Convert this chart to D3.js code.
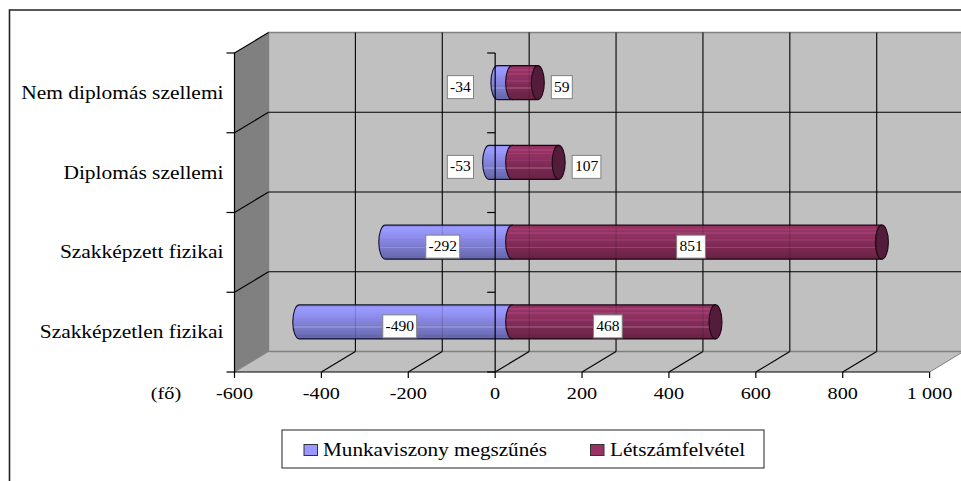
<!DOCTYPE html>
<html><head><meta charset="utf-8">
<script src="https://cdn.jsdelivr.net/npm/d3@7"></script>
<style>html,body{margin:0;padding:0;background:#fff}svg{display:block}text{font-family:"Liberation Serif","Times New Roman",serif;fill:#000}</style>
</head><body><svg id="c" width="961" height="481"></svg>
<script>
const categories = ["Nem diplomás szellemi","Diplomás szellemi","Szakképzett fizikai","Szakképzetlen fizikai"];
const leaving = [-34,-53,-292,-490];
const hiring = [59,107,851,468];
const seriesNames = ["Munkaviszony megszűnés","Létszámfelvétel"];
const xTicks = [-600,-400,-200,0,200,400,600,800,1000];
const xTickLabels = ["-600","-400","-200","0","200","400","600","800","1 000"];
const unitLabel = "(fő)";

const svg = d3.select("#c");
const x = d3.scaleLinear().domain([-600,1000]).range([234.5,929.6]);
const y = d3.scaleBand().domain(categories).range([53,372]);
const dx = 34, dy = -20.5;      // depth of the 3D box
const barH = 34, rx = 6.5;
const cy = c => y(c) + y.bandwidth()/2 + dy/2;
const x0 = x(0) + dx/2;
const xm = v => x(v) + dx/2;
const [L,R] = x.range(), [T,B] = y.range();
const STRETCH = 1.19;

function stretched(sel){ sel.each(function(){ const l=this.getComputedTextLength(); this.setAttribute("textLength",l*STRETCH); this.setAttribute("lengthAdjust","spacingAndGlyphs"); }); return sel; }

// outer frame
svg.append("path").attr("d","M9.5,481V10H961").attr("fill","none").attr("stroke","#222").attr("stroke-width",1.6);

// defs: banded cylinder shading
const defs = svg.append("defs");
function bands(id, colors){
  const g = defs.append("linearGradient").attr("id",id).attr("x1",0).attr("x2",0).attr("y1",0).attr("y2",1);
  colors.forEach((c,i)=>{
    g.append("stop").attr("offset",i/colors.length).attr("stop-color",c);
    g.append("stop").attr("offset",(i+1)/colors.length).attr("stop-color",c);
  });
}
bands("gB",["#8f8ff0","#9999ff","#9999ff","#9696fb","#9494f7","#9090f2","#8d8dec","#8a8ae6","#8686e0","#8383da","#8080d5","#7c7ccf","#8f8fd0","#7878c9","#7474c2","#7070bc","#6d6db6","#6868ae","#6666aa"]);
bands("gR",["#8f2f5f","#993366","#a33e72","#963365","#9b3e6e","#913162","#8f3060","#8c2f5e","#8f3a66","#852c59","#822b56","#7f2a54","#8e4a6e","#7a2850","#77274e","#73264c","#6f2549","#6b2446","#662244"]);

// walls
svg.append("polygon").attr("points",[[L,T],[L+dx,T+dy],[L+dx,B+dy],[L,B]].join(" ")).attr("fill","#808080");
svg.append("rect").attr("x",L+dx).attr("y",T+dy).attr("width",961-L-dx).attr("height",B-T).attr("fill","#c0c0c0");
svg.append("polygon").attr("points",[[L,B],[L+dx,B+dy],[R+dx,B+dy],[R,B]].join(" ")).attr("fill","#c0c0c0");
// wall borders
svg.append("path").attr("d",`M${L+dx},${B+dy}V${T+dy}H961M${L+dx},${B+dy}H961`).attr("fill","none").attr("stroke","#808080").attr("stroke-width",1.4);
svg.append("path").attr("d",`M${R},${B}L${R+dx},${B+dy}`).attr("stroke","#808080");
svg.append("path").attr("d",`M${L},${B}L${L+dx},${B+dy}`).attr("stroke","#808080");

// gridlines
const grid = svg.append("g").attr("stroke","#000").attr("stroke-width",1.1).attr("fill","none");
xTicks.slice(1,-1).forEach(t=>{
  grid.append("line").attr("x1",x(t)+dx).attr("x2",x(t)+dx).attr("y1",T+dy).attr("y2",B+dy);
});
xTicks.slice(1).forEach(t=>{
  if(t<1000) grid.append("line").attr("x1",x(t)).attr("y1",B).attr("x2",x(t)+dx).attr("y2",B+dy);
});
categories.forEach((c,i)=>{
  if(i>0){
    grid.append("line").attr("x1",L).attr("y1",y(c)).attr("x2",L+dx).attr("y2",y(c)+dy);
    grid.append("line").attr("x1",L+dx).attr("y1",y(c)+dy).attr("x2",961).attr("y2",y(c)+dy);
  }
});
grid.append("line").attr("x1",L).attr("y1",T).attr("x2",L+dx).attr("y2",T+dy);

// bars
const bars = svg.append("g");
categories.forEach((c,i)=>{
  const yc = cy(c), t = yc-barH/2, b = yc+barH/2, ry = barH/2;
  const xl = xm(leaving[i]), xr = xm(hiring[i]);
  bars.append("path")
    .attr("d",`M${x0},${t}H${xl}A${rx},${ry} 0 0 0 ${xl},${b}H${x0}Z`)
    .attr("fill","url(#gB)").attr("stroke","#10102a").attr("stroke-width",1.1);
  bars.append("path")
    .attr("d",`M${x0},${t}H${xr}V${b}H${x0}A${rx},${ry} 0 0 1 ${x0},${t}Z`)
    .attr("fill","url(#gR)").attr("stroke","#1d0612").attr("stroke-width",1.1);
  bars.append("ellipse").attr("cx",xr).attr("cy",yc).attr("rx",rx).attr("ry",ry)
    .attr("fill","#521c3a").attr("stroke","#1d0612").attr("stroke-width",1.1);
});

// back gridlines faintly visible through the bars
const ghost = svg.append("g").attr("stroke","#000").attr("stroke-width",1).attr("stroke-opacity",.18);
categories.forEach((c,i)=>{
  const yc = cy(c);
  xTicks.slice(1,-1).forEach(t=>{
    const gx = x(t)+dx;
    if(gx > xm(leaving[i]) && gx < xm(hiring[i]))
      ghost.append("line").attr("x1",gx).attr("x2",gx).attr("y1",yc-barH/2).attr("y2",yc+barH/2);
  });
});

// axes
const axes = svg.append("g").attr("stroke","#000").attr("stroke-width",1.2);
axes.append("line").attr("x1",L).attr("x2",L).attr("y1",T-.5).attr("y2",B);
axes.append("line").attr("x1",x(0)).attr("x2",x(0)).attr("y1",T).attr("y2",B);
axes.append("line").attr("x1",L).attr("x2",R).attr("y1",B).attr("y2",B);
xTicks.forEach(t=>axes.append("line").attr("x1",x(t)).attr("x2",x(t)).attr("y1",B).attr("y2",B+6));
[...categories.map(c=>y(c)),B].forEach(v=>{
  axes.append("line").attr("x1",L-8).attr("x2",L).attr("y1",v).attr("y2",v);
  axes.append("line").attr("x1",x(0)-8).attr("x2",x(0)).attr("y1",v).attr("y2",v);
});

// category labels
svg.append("g").selectAll("text").data(categories).join("text")
  .attr("x",223.5).attr("y",c=>y(c)+y.bandwidth()/2+6).attr("text-anchor","end")
  .attr("font-size",18).text(d=>d).call(stretched);

// x tick labels
svg.append("g").selectAll("text").data(xTicks).join("text")
  .attr("x",t=>x(t)).attr("y",399).attr("text-anchor","middle").attr("font-size",17)
  .text((t,i)=>xTickLabels[i]).call(stretched);
svg.append("text").attr("x",166).attr("y",399).attr("text-anchor","middle").attr("font-size",17).text(unitLabel).call(stretched);

// data labels
function dataLabel(cx, yc, v, anchorLeft){
  const g = svg.append("g");
  const r = g.append("rect").attr("fill","#fff").attr("stroke","#808080").attr("stroke-width",1);
  const tx = g.append("text").attr("text-anchor","middle").attr("font-size",15.5).text(v);
  const w = tx.node().getComputedTextLength() + 5.5;
  const cxx = anchorLeft ? cx + w/2 : cx;
  r.attr("x",cxx-w/2).attr("y",yc-7).attr("width",w).attr("height",23);
  tx.attr("x",cxx).attr("y",yc+9);
}
categories.forEach((c,i)=>{
  const yc = cy(c);
  const l = leaving[i], h = hiring[i];
  if(Math.abs(l)<100) dataLabel(x(-80), yc, l, false);
  else dataLabel((xm(l)+x0)/2-6, yc, l, false);
  if(h<200) dataLabel(xm(h)+rx+7, yc, h, true);
  else dataLabel((x0+xm(h))/2-6, yc, h, false);
});

// legend
const lg = svg.append("g");
lg.append("rect").attr("x",282).attr("y",430).attr("width",482).attr("height",38).attr("fill","#fff").attr("stroke","#222").attr("stroke-width",1);
[[304,323],[590.5,610]].forEach(([sx,tx],i)=>{
  lg.append("rect").attr("x",sx).attr("y",444.5).attr("width",13.5).attr("height",11)
    .attr("fill",i?"#993366":"#9999ff").attr("stroke","#333").attr("stroke-width",1);
  lg.append("text").attr("x",tx).attr("y",456).attr("font-size",17.8).text(seriesNames[i]).call(stretched);
});
</script></body></html>
